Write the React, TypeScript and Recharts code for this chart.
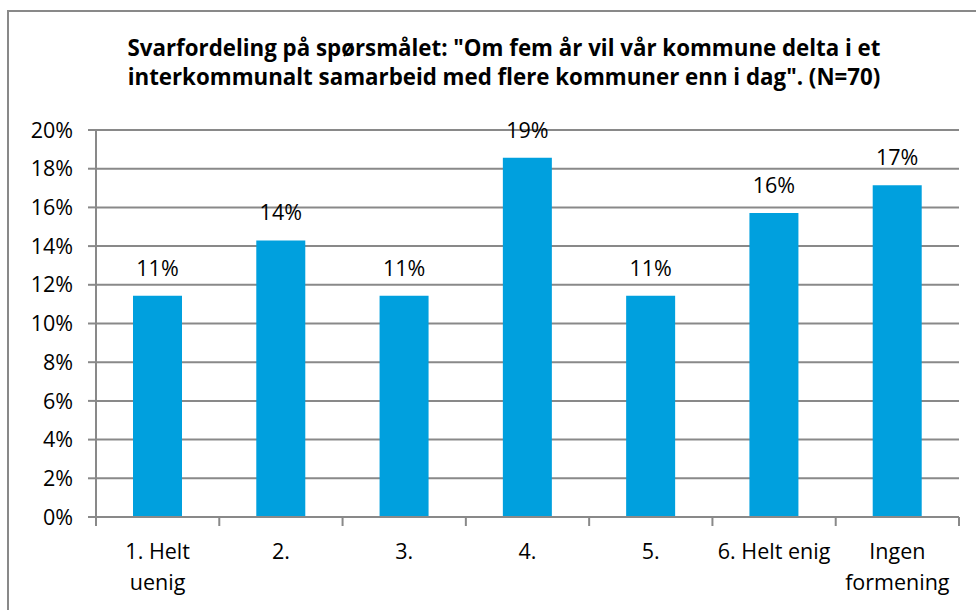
import React from "react";
import { BarChart, Bar, XAxis, YAxis, CartesianGrid, LabelList } from "recharts";

const titleLines = [
  'Svarfordeling på spørsmålet: "Om fem år vil vår kommune delta i et',
  'interkommunalt samarbeid med flere kommuner enn i dag". (N=70)',
];
const categories = ["1. Helt uenig", "2.", "3.", "4.", "5.", "6. Helt enig", "Ingen formening"];
const tickLabelLines = [["1. Helt", "uenig"], ["2."], ["3."], ["4."], ["5."], ["6. Helt enig"], ["Ingen", "formening"]];
const values = [11.43, 14.29, 11.43, 18.57, 11.43, 15.71, 17.14];
const yTicks = [0, 2, 4, 6, 8, 10, 12, 14, 16, 18, 20];

const data = categories.map((c, i) => ({ name: c, value: values[i] }));

const GREY = "#898989";
const FONT = "'Open Sans', Lato, sans-serif";
const FS = 21.5;

function XTick(props: any) {
  const { x, y, payload, index, visibleTicksCount, width } = props;
  const off = payload && payload.offset;
  const half = off && off > 5 ? off : width / visibleTicksCount / 2;
  const i = categories.indexOf(payload.value);
  const lines = tickLabelLines[i >= 0 ? i : index] || [String(payload.value)];
  return (
    <g>
      <line x1={x - half} x2={x - half} y1={y} y2={y + 9} stroke={GREY} strokeWidth={2} />
      {index === visibleTicksCount - 1 && (
        <line x1={x + half} x2={x + half} y1={y} y2={y + 9} stroke={GREY} strokeWidth={2} />
      )}
      <text x={x} y={y + 42} textAnchor="middle" fill="#000" fontSize={FS} fontFamily={FONT}>
        {lines.map((l: string, k: number) => (
          <tspan key={k} x={x} dy={k === 0 ? 0 : 31}>
            {l}
          </tspan>
        ))}
      </text>
    </g>
  );
}

export default function App() {
  return (
    <div
      style={{
        position: "fixed",
        left: 0,
        top: 0,
        width: 976,
        height: 610,
        overflow: "hidden",
        background: "#fff",
        fontFamily: FONT,
      }}
    >
      <div
        style={{
          position: "absolute",
          left: 7,
          top: 10,
          width: 1000,
          height: 700,
          borderLeft: `2px solid ${GREY}`,
          borderTop: `2px solid ${GREY}`,
        }}
      />
      <svg width={976} height={110} style={{ position: "absolute", left: 0, top: 0 }}>
        {titleLines.map((t, i) => (
          <text
            key={i}
            x={504}
            y={56 + i * 29}
            textAnchor="middle"
            fontWeight="bold"
            fontSize={22.3}
            fontFamily={FONT}
            fill="#000"
          >
            {t}
          </text>
        ))}
      </svg>
      <div style={{ position: "absolute", left: 0, top: 0 }}>
        <BarChart
          width={976}
          height={610}
          data={data}
          margin={{ top: 130, right: 17, left: 0, bottom: 0 }}
          barSize={49}
          style={{ fontFamily: FONT }}
        >
          <CartesianGrid vertical={false} stroke={GREY} strokeWidth={2} />
          <XAxis
            dataKey="name"
            height={93}
            interval={0}
            tickLine={false}
            tickSize={0}
            tickMargin={0}
            axisLine={{ stroke: GREY, strokeWidth: 2 }}
            tick={<XTick />}
          />
          <YAxis
            width={96}
            domain={[0, 20]}
            ticks={yTicks}
            interval={0}
            tickFormatter={(v: number) => `${v}%`}
            tickSize={8}
            tickMargin={15}
            axisLine={{ stroke: GREY, strokeWidth: 2 }}
            tickLine={{ stroke: GREY, strokeWidth: 2 }}
            tick={{ fill: "#000", fontSize: FS, fontFamily: FONT }}
          />
          <Bar dataKey="value" fill="#00A0DE" isAnimationActive={false}>
            <LabelList
              dataKey="value"
              position="top"
              offset={20}
              formatter={(v: any) => `${Math.round(Number(v))}%`}
              style={{ fill: "#000", fontSize: FS, fontFamily: FONT }}
            />
          </Bar>
        </BarChart>
      </div>
    </div>
  );
}
